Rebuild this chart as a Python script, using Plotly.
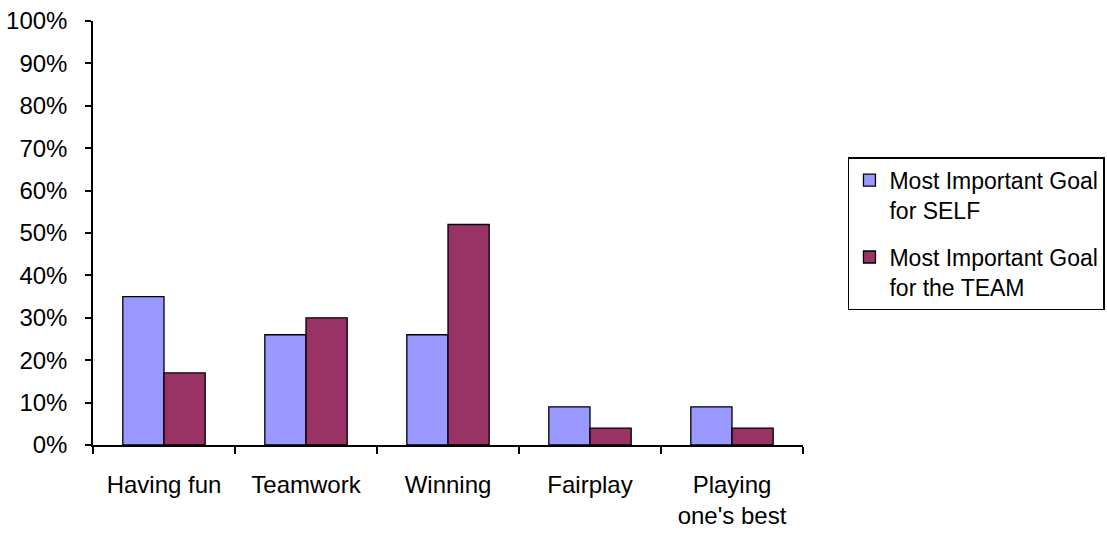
import plotly.graph_objects as go

categories = ["Having fun", "Teamwork", "Winning", "Fairplay", "Playing<br>one's best"]
self_goal = [0.35, 0.26, 0.26, 0.09, 0.09]
team_goal = [0.17, 0.30, 0.52, 0.04, 0.04]
series_names = ["Most Important Goal<br>for SELF", "Most Important Goal<br>for the TEAM"]
y_ticks = [i / 10 for i in range(11)]

FONT = "Liberation Sans, Arial, sans-serif"

fig = go.Figure()
fig.add_trace(go.Bar(
    x=categories, y=self_goal, name=series_names[0], legendgroup="self",
    marker=dict(color="#9999FF", line=dict(color="black", width=1.3)),
))
fig.add_trace(go.Bar(
    x=categories, y=team_goal, name=series_names[1], legendgroup="team",
    marker=dict(color="#993366", line=dict(color="black", width=1.3)),
))

fig.update_layout(
    width=1107, height=533,
    margin=dict(l=93, r=304, t=21, b=88, autoexpand=False),
    paper_bgcolor="white", plot_bgcolor="white",
    barmode="group", bargap=0.42, bargroupgap=0,
    font=dict(family=FONT, size=24, color="black"),
    showlegend=True,
    legend=dict(
        xref="container", yref="container",
        x=0.766, y=0.705, xanchor="left", yanchor="top",
        bordercolor="black", borderwidth=1.5, bgcolor="white",
        font=dict(size=23), itemwidth=30, tracegroupgap=14,
        valign="top", traceorder="grouped",
    ),
    xaxis=dict(
        type="category", showline=True, linecolor="black", linewidth=1.5,
        ticks="outside", tickson="boundaries", ticklen=7, tickcolor="black",
        tickwidth=1.5, showgrid=False, zeroline=False, ticklabelstandoff=17,
        automargin=False,
    ),
    yaxis=dict(
        range=[0, 1], tickvals=y_ticks, tickformat=".0%",
        showline=True, linecolor="black", linewidth=1.5,
        ticks="outside", ticklen=6, tickcolor="black", tickwidth=1.5,
        showgrid=False, zeroline=False, ticklabelstandoff=13,
        automargin=False,
    ),
)

fig.write_html("out.html")
